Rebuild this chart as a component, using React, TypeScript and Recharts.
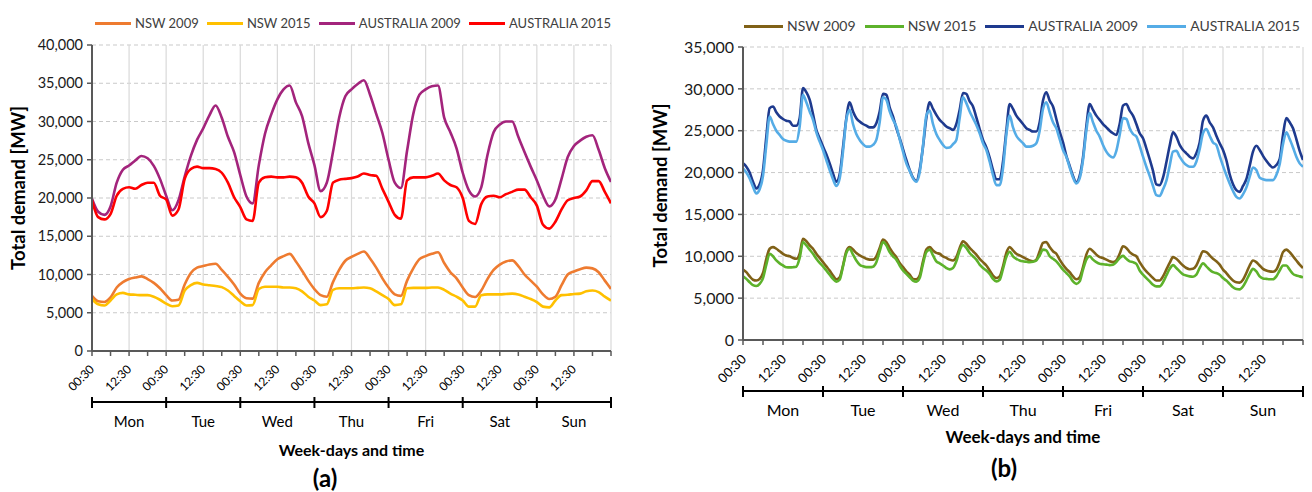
import React from 'react';
import { LineChart, Line, XAxis, YAxis, CartesianGrid, ReferenceLine } from 'recharts';

const FONT = 'Lato, "Open Sans", "DejaVu Sans", sans-serif';

// ---------- categories ----------
const DAYS = ['Mon', 'Tue', 'Wed', 'Thu', 'Fri', 'Sat', 'Sun'];
const TIME_LABELS = ['00:30', '12:30'];
const SERIES_NAMES = ['NSW 2009', 'NSW 2015', 'AUSTRALIA 2009', 'AUSTRALIA 2015'];
const Y_TICKS_A = [0, 5000, 10000, 15000, 20000, 25000, 30000, 35000, 40000];
const Y_TICKS_B = [0, 5000, 10000, 15000, 20000, 25000, 30000, 35000];
const TIME_TICKS = Array.from({ length: 29 }, (_, i) => i * 6); // hours since Mon 00:30
const DAY_TICKS = Array.from({ length: 15 }, (_, i) => i * 12);
const GRID_HOURS = Array.from({ length: 14 }, (_, i) => (i + 1) * 12);

// hours since Monday 00:30
const HOURS_A = Array.from({ length: 85 }, (_, i) => i * 2);
const HOURS_B = Array.from({ length: 169 }, (_, i) => i);

// ---------- chart (a) values, every 2 h ----------
const NSW_2009_A = [
  7200, 6500, 6400, 7000, 8300, 9000, 9400, 9600, 9750, 9400, 8900, 8200,
  7300, 6600, 6700, 8700, 10200, 10900, 11100, 11300, 11400, 10600, 9700, 8700,
  7500, 6900, 6850, 8900, 10300, 11200, 12000, 12400, 12700, 11700, 10500, 9200,
  8100, 7300, 7100, 9000, 10600, 11800, 12300, 12700, 13000, 12100, 10900, 9500,
  8300, 7400, 7200, 9200, 10800, 12000, 12400, 12700, 12900, 11500, 10300, 9500,
  8300, 7300, 7050, 7900, 9400, 10600, 11300, 11700, 11850, 11100, 10000, 9200,
  8400, 7400, 6800, 7100, 8600, 10000, 10400, 10700, 10900, 10800, 10300, 9200,
  8100,
];
const NSW_2015_A = [
  6800, 6100, 5950, 6600, 7400, 7600, 7400, 7350, 7300, 7300, 7100, 6700,
  6200, 5850, 5950, 7900, 8600, 8900, 8700, 8600, 8500, 8350, 7900, 7200,
  6500, 5950, 6000, 8100, 8400, 8400, 8400, 8300, 8300, 8200, 7800, 7100,
  6600, 6000, 6100, 8000, 8200, 8200, 8200, 8250, 8300, 8200, 7800, 7300,
  6800, 6000, 6100, 8200, 8250, 8250, 8250, 8300, 8300, 8000, 7500, 7100,
  6600, 5800, 5800, 7300, 7400, 7400, 7400, 7450, 7500, 7400, 7100, 6800,
  6400, 5800, 5700, 6600, 7300, 7350, 7450, 7500, 7800, 7900, 7700, 7100,
  6600,
];
const AUS_2009_A = [
  19900, 18200, 17800, 18900, 22000, 23700, 24250, 24900, 25500, 25200, 24200, 22500,
  20300, 18400, 19700, 22800, 25500, 27600, 29100, 30800, 32100, 30500, 28000, 26000,
  23000, 20200, 19300, 24300, 28400, 30900, 32900, 34200, 34700, 32500, 30700, 27200,
  24300, 20900, 22000, 26000, 30500, 33300, 34200, 34900, 35400, 33500, 31000, 28500,
  25000, 22000, 21300, 26200, 31000, 33500, 34200, 34600, 34700, 30500, 28600, 26500,
  23300, 21000, 20200, 21400, 25600, 28600, 29600, 30000, 30000, 28000, 26000, 24100,
  22300, 20300, 18900, 19800, 22500, 25350, 26800, 27500, 28000, 28200, 26300, 23900,
  22100,
];
const AUS_2015_A = [
  19700, 17500, 17200, 17900, 20300, 21200, 21400, 21200, 21700, 22000, 22000, 20300,
  19800, 17700, 18500, 22500, 23800, 24100, 23900, 23900, 23800, 23300, 22000, 20100,
  18800, 17200, 17000, 22000, 22700, 22800, 22700, 22700, 22800, 22700, 22000, 20200,
  19300, 17500, 18300, 22000, 22400, 22500, 22600, 22800, 23200, 23000, 22900, 21200,
  19500, 17800, 17300, 22300, 22700, 22700, 22700, 22900, 23200, 22300, 21700, 21400,
  20000, 17000, 16600, 19200, 20200, 20300, 20100, 20500, 20800, 21100, 21100, 20100,
  19000, 16500, 16000, 16900, 18500, 19700, 20000, 20200, 21000, 22200, 22200, 20800,
  19300,
];

// ---------- chart (b) values, hourly ----------
const NSW_2009_B = [
  8400, 8100, 7600, 7200, 7100, 7300, 8000, 9700, 10900, 11100, 10900, 10600, 10300, 10100, 10000, 9800, 9700, 10300, 12100, 11800, 11300, 10900, 10300, 9800,
  9300, 8800, 8300, 7700, 7250, 7500, 8900, 10600, 11100, 10800, 10400, 10100, 9900, 9700, 9600, 9600, 10000, 11000, 12000, 11700, 11000, 10400, 9900, 9200,
  8700, 8200, 7800, 7300, 7250, 7700, 9400, 10800, 11100, 10700, 10400, 10300, 10000, 9800, 9600, 9500, 9900, 11000, 11800, 11500, 11000, 10600, 10200, 9700,
  9300, 8900, 8300, 7700, 7400, 7600, 8800, 10400, 11100, 10700, 10300, 10100, 9900, 9700, 9500, 9400, 9600, 10600, 11600, 11700, 11100, 10600, 10300, 9600,
  9000, 8500, 8100, 7600, 7250, 7500, 8700, 10200, 10900, 10600, 10200, 9900, 9800, 9600, 9400, 9300, 9500, 10300, 11200, 11000, 10500, 10200, 10000, 9300,
  8700, 8200, 7800, 7400, 7100, 7100, 7600, 8400, 9200, 9900, 9700, 9300, 8900, 8600, 8450, 8500, 8900, 9800, 10600, 10500, 10100, 9700, 9400, 9000,
  8400, 8000, 7500, 7100, 6900, 6850, 7200, 8000, 8900, 9500, 9300, 8900, 8500, 8300, 8200, 8150, 8400, 9300, 10500, 10800, 10500, 10000, 9500, 9000,
  8600,
];
const NSW_2015_B = [
  7600, 7300, 6900, 6550, 6450, 6700, 7400, 9000, 10300, 10000, 9500, 9150, 8900, 8700, 8680, 8700, 8760, 9800, 11700, 11300, 10800, 10300, 9700, 9200,
  8800, 8300, 7800, 7300, 6970, 7200, 8800, 10400, 10900, 10200, 9500, 9000, 8800, 8700, 8700, 8760, 9300, 10600, 11700, 11300, 10500, 10000, 9600, 8900,
  8300, 7900, 7500, 7100, 6970, 7400, 9100, 10500, 10800, 10100, 9400, 9160, 8900, 8600, 8440, 8600, 9400, 10700, 11350, 11000, 10400, 10000, 9600, 9000,
  8600, 8300, 7900, 7300, 7000, 7200, 8500, 9900, 10550, 10000, 9700, 9500, 9400, 9350, 9300, 9350, 9500, 10100, 10800, 10700, 10000, 9700, 9400, 8900,
  8400, 8000, 7600, 7000, 6700, 7000, 8400, 9600, 10000, 9600, 9300, 9100, 9050, 9000, 8950, 9000, 9300, 9800, 10050, 9700, 9400, 9300, 9100, 8300,
  7800, 7400, 7000, 6600, 6400, 6400, 6900, 7700, 8500, 8950, 8600, 8200, 7850, 7700, 7600, 7560, 7800, 8600, 9150, 8800, 8400, 8100, 8000, 7800,
  7400, 7100, 6700, 6300, 6100, 6050, 6400, 7100, 7900, 8500, 8200, 7600, 7350, 7300, 7250, 7250, 7600, 8300, 8900, 8900, 8400, 7900, 7700, 7600,
  7480,
];
const AUS_2009_B = [
  21100, 20700, 20000, 18900, 18100, 18600, 20300, 24300, 27700, 27900, 27200, 26700, 26400, 26200, 26100, 25600, 25600, 26500, 30100, 29600, 28700, 27000, 25100, 24100,
  23100, 22200, 21100, 19900, 18900, 19800, 23000, 26500, 28400, 27300, 26500, 26100, 25800, 25600, 25400, 25400, 25900, 27300, 29400, 29300, 27800, 26700, 25300, 24100,
  22800, 21500, 20300, 19400, 19000, 20300, 23100, 26500, 28400, 27600, 26900, 26300, 25900, 25500, 25300, 25100, 25800, 27500, 29500, 29400, 28500, 27900, 26600, 25200,
  23900, 23000, 21800, 20300, 19200, 19200, 21300, 25000, 28200, 27600, 26800, 26300, 25800, 25300, 25100, 24900, 24900, 26000, 28600, 29600, 28600, 27900, 26400, 24900,
  23600, 22000, 20800, 19600, 18800, 19600, 21800, 25500, 28200, 27500, 26800, 26300, 25800, 25400, 25000, 24700, 24500, 25800, 28000, 28200, 27400, 26800, 25800, 24700,
  24100, 22900, 21600, 20200, 18600, 18500, 19400, 21200, 23200, 24800, 24300, 23300, 22700, 22300, 21900, 21700, 22300, 23600, 26200, 26800, 26000, 25400, 24400, 23500,
  22700, 21500, 19800, 18600, 17900, 17700, 18400, 19200, 20800, 22500, 23200, 22700, 22000, 21400, 20900, 20600, 20900, 21600, 24500, 26500, 26000, 25300, 24000, 22600,
  21500,
];
const AUS_2015_B = [
  20500, 20000, 19300, 18300, 17500, 18000, 19600, 23300, 26700, 25800, 25000, 24500, 24000, 23800, 23700, 23700, 23700, 25500, 29300, 28400, 27300, 26300, 24800, 23700,
  22700, 21500, 20300, 19200, 18400, 19300, 22500, 26300, 27500, 25800, 24600, 23900, 23400, 23100, 23100, 23300, 23900, 26000, 29000, 28700, 27300, 26300, 25500, 24000,
  22500, 21100, 20200, 19300, 18900, 20000, 23200, 26800, 27400, 25800, 24600, 23900, 23300, 22950, 23000, 23400, 23900, 26500, 29000, 28300, 27300, 26500, 25700, 24700,
  23500, 22700, 21300, 19700, 18500, 18500, 20500, 24500, 26800, 25400, 24400, 23900, 23500, 23100, 23100, 23200, 23500, 25000, 27600, 28400, 27200, 26000, 25300, 24000,
  22700, 21900, 20600, 19400, 18700, 19300, 21500, 25000, 27100, 26000, 25000, 24300, 23300, 22500, 22000, 21800, 22600, 24500, 26500, 26400, 25300, 24600, 24300, 23200,
  21900, 20700, 19600, 18400, 17300, 17200, 18000, 19000, 20800, 22500, 22600, 21900, 21300, 20900, 20700, 20700, 21300, 22800, 24700, 25200, 24400, 23600, 23300, 22000,
  20800, 19700, 18700, 17800, 17100, 16900, 17400, 18200, 19500, 20600, 20300, 19400, 19200, 19100, 19100, 19100, 19700, 21000, 23400, 24800, 24000, 23000, 21900, 21100,
  20700,
];

const COLORS_A = ['#EE7B30', '#FFC000', '#A3247C', '#FF0000'];
const COLORS_B = ['#806117', '#5DB22B', '#1E3A8E', '#55ACE6'];
const KEYS = ['nsw09', 'nsw15', 'aus09', 'aus15'];

const rowsA = HOURS_A.map((h, i) => ({
  h, nsw09: NSW_2009_A[i], nsw15: NSW_2015_A[i], aus09: AUS_2009_A[i], aus15: AUS_2015_A[i],
}));
const rowsB = HOURS_B.map((h, i) => ({
  h, nsw09: NSW_2009_B[i], nsw15: NSW_2015_B[i], aus09: AUS_2009_B[i], aus15: AUS_2015_B[i],
}));

const fmt = (v: number) => v.toLocaleString('en-US');

const makeTimeTick = (fontSize: number, dx: number, dy: number) => (p: any) => {
  const v = p.payload.value;
  if (v % 12 !== 0 || v >= 168) return <g />;
  const label = TIME_LABELS[(v / 12) % 2];
  const ax = p.x + dx;
  const ay = p.y + dy;
  return (
    <text x={ax} y={ay} transform={`rotate(-45 ${ax} ${ay})`} textAnchor="end"
      fontSize={fontSize} fontFamily={FONT} fill="#000">{label}</text>
  );
};

const makeDayTick = (fontSize: number, labelDy: number) => (p: any) => {
  const v = p.payload.value;
  const axisY = p.y;
  if (v % 24 === 0) {
    return <line x1={p.x} x2={p.x} y1={axisY - 5} y2={axisY + 6} stroke="#000" strokeWidth={2} />;
  }
  return (
    <text x={p.x} y={axisY + labelDy} textAnchor="middle" fontSize={fontSize}
      fontFamily={FONT} fill="#000">{DAYS[(v - 12) / 24]}</text>
  );
};

const makeYLabel = (dx: number, dy: number, fontSize: number) => (p: any) => {
  const vb = p.viewBox;
  const cx = vb.x + dx;
  const cy = vb.y + vb.height / 2 + dy;
  return (
    <text x={cx} y={cy} transform={`rotate(-90 ${cx} ${cy})`} textAnchor="middle"
      dominantBaseline="central" fontSize={fontSize} fontWeight="bold" fontFamily={FONT} fill="#000">
      Total demand [MW]
    </text>
  );
};

function LegendRow({ colors, left, width, top, fontSize, gap, lineW }: any) {
  return (
    <div style={{
      position: 'absolute', left, top, width, display: 'flex', justifyContent: 'space-between',
      alignItems: 'center', fontFamily: FONT, fontSize, color: '#404040', lineHeight: '16px',
    }}>
      {SERIES_NAMES.map((n, i) => (
        <div key={n} style={{ display: 'flex', alignItems: 'center' }}>
          <div style={{ width: lineW, height: 3, background: colors[i], marginRight: gap }} />
          <span>{n}</span>
        </div>
      ))}
    </div>
  );
}

function Panel(props: any) {
  const {
    data, colors, yTicks, yMax, width, height, margin, timeH, daysH,
    tickFont, yTickFont, dayFont, timeDx, timeDy, dayDy, yLabelDx, yLabelDy, yLabelFont,
  } = props;
  return (
    <LineChart width={width} height={height} data={data} margin={margin}>
      <CartesianGrid vertical={false} stroke="#c9c9c9" strokeDasharray="4 3" />
      {GRID_HOURS.map((h) => (
        <ReferenceLine key={h} x={h} stroke="#d9d9d9" strokeWidth={1.2} />
      ))}
      <XAxis dataKey="h" type="number" domain={[0, 168]} ticks={TIME_TICKS} interval={0}
        allowDataOverflow height={timeH} axisLine={{ stroke: '#595959', strokeWidth: 2 }}
        tickLine={{ stroke: '#595959', strokeWidth: 1.5 }} tickSize={5} tickMargin={2}
        tick={makeTimeTick(tickFont, timeDx, timeDy)} />
      <XAxis xAxisId="days" dataKey="h" type="number" domain={[0, 168]} ticks={DAY_TICKS} interval={0}
        allowDataOverflow height={daysH} axisLine={{ stroke: '#000', strokeWidth: 2 }}
        tickLine={false} tickSize={0} tickMargin={0}
        tick={makeDayTick(dayFont, dayDy)} />
      <YAxis type="number" domain={[0, yMax]} ticks={yTicks} interval={0} width={62}
        axisLine={{ stroke: '#595959', strokeWidth: 2 }} tickLine={{ stroke: '#595959', strokeWidth: 1.5 }}
        tickSize={5} tickMargin={4} tickFormatter={fmt}
        tick={{ fontSize: yTickFont, fontFamily: FONT, fill: '#1a1a1a' }}
        label={makeYLabel(yLabelDx, yLabelDy, yLabelFont)} />
      {KEYS.map((k, i) => (
        <Line key={k} dataKey={k} name={SERIES_NAMES[i]} stroke={colors[i]} strokeWidth={2.6}
          dot={false} type="monotone" isAnimationActive={false} />
      ))}
    </LineChart>
  );
}

export default function App() {
  return (
    <div style={{ position: 'absolute', left: 0, top: 0, width: 1312, height: 492, background: '#fff', overflow: 'hidden' }}>
      <LegendRow colors={COLORS_A} left={95} width={516} top={15} fontSize={13} gap={4} lineW={36} />
      <LegendRow colors={COLORS_B} left={744} width={556} top={18} fontSize={14} gap={4} lineW={39} />

      <div style={{ position: 'absolute', left: 0, top: 0 }}>
        <Panel data={rowsA} colors={COLORS_A} yTicks={Y_TICKS_A} yMax={40000} width={640} height={492}
          margin={{ top: 45, right: 29, bottom: 50, left: 30 }} timeH={51} daysH={40}
          tickFont={12} yTickFont={14.5} dayFont={15} timeDx={3} timeDy={12} dayDy={25}
          yLabelDx={-12} yLabelDy={-10} yLabelFont={18.5} />
      </div>
      <div style={{ position: 'absolute', left: 640, top: 0 }}>
        <Panel data={rowsB} colors={COLORS_B} yTicks={Y_TICKS_B} yMax={35000} width={672} height={492}
          margin={{ top: 47, right: 9, bottom: 61, left: 41 }} timeH={51} daysH={40}
          tickFont={13} yTickFont={16} dayFont={16} timeDx={4} timeDy={13} dayDy={25}
          yLabelDx={-21} yLabelDy={-8} yLabelFont={18.5} />
      </div>

      <div style={{ position: 'absolute', left: 92, width: 519, top: 440, textAlign: 'center', fontFamily: FONT, fontWeight: 'bold', fontSize: 16, lineHeight: '20px' }}>
        Week-days and time
      </div>
      <div style={{ position: 'absolute', left: 92, width: 466, top: 464, textAlign: 'center', fontFamily: FONT, fontWeight: 'bold', fontSize: 24, lineHeight: '28px' }}>
        (a)
      </div>
      <div style={{ position: 'absolute', left: 743, width: 560, top: 427, textAlign: 'center', fontFamily: FONT, fontWeight: 'bold', fontSize: 17, lineHeight: '20px' }}>
        Week-days and time
      </div>
      <div style={{ position: 'absolute', left: 743, width: 522, top: 454, textAlign: 'center', fontFamily: FONT, fontWeight: 'bold', fontSize: 24, lineHeight: '28px' }}>
        (b)
      </div>
    </div>
  );
}
